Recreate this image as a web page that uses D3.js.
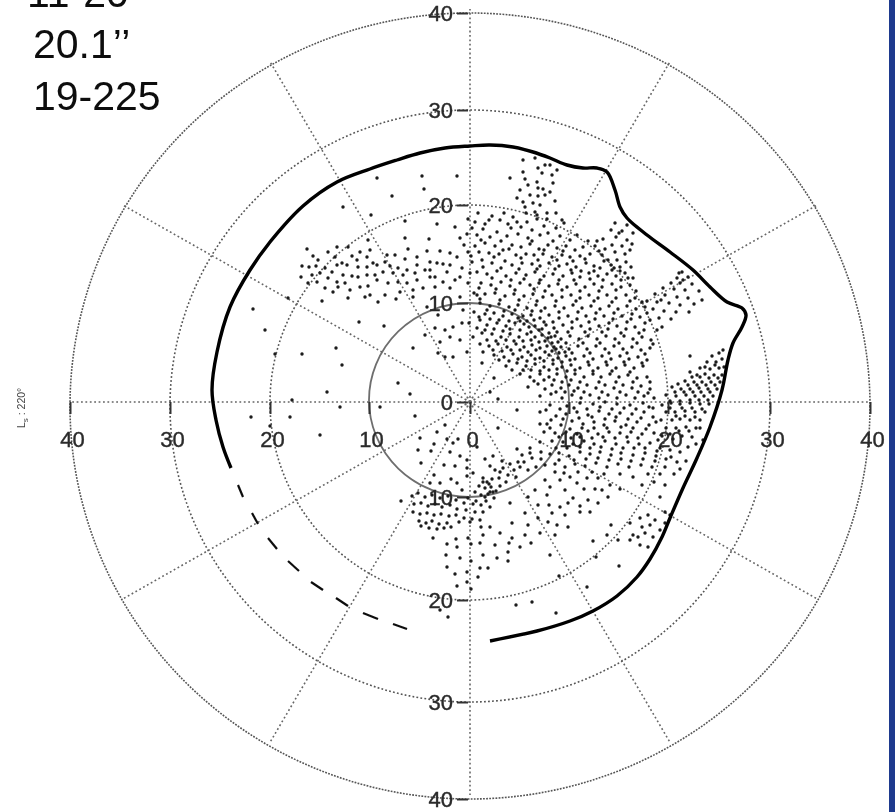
<!DOCTYPE html>
<html>
<head>
<meta charset="utf-8">
<script src="https://cdnjs.cloudflare.com/ajax/libs/d3/7.8.5/d3.min.js"></script>
<style>
  body { margin: 0; background: #fff; }
  #chart svg { display: block; }
  text { font-family: "Liberation Sans", Arial, sans-serif; }
</style>
</head>
<body>
<div id="chart"></div>
<script>
// grid values
var ringValues = [10, 20, 30, 40];
var spokeAngles = [0, 30, 60, 90, 120, 150, 180, 210, 240, 270, 300, 330];
var tickValues = [-40, -30, -20, -10, 0, 10, 20, 30, 40];
var titleLines = ["11-20", "20.1\u2019\u2019", "19-225"];

// outline of the cap edge (x, y in grid units)
var capEdge = [[2,-23.9],[6.7,-22.9],[10,-21.9],[12.3,-20.9],[14.7,-19.4],[16.7,-17.5],[18,-15.7],[19.2,-13.5],[20,-11.6],[21.3,-8.6],[22.7,-5.6],[24,-2.5],[25.2,1.2],[25.8,4.2],[26.3,5.9],[27.2,7.5],[27.6,8.7],[27.2,9.4],[25.7,10],[24,11.5],[22.3,13.2],[20,15],[17.7,16.7],[15.7,18.4],[15,19.5],[14.5,21.2],[13.7,23],[12.7,23.4],[11.3,23.4],[9.7,23.7],[8,24.4],[6.3,25],[4.3,25.5],[2,25.7],[0,25.6],[-2.5,25.4],[-5,24.9],[-7.3,24.2],[-10,23.3],[-13.3,22],[-16.7,19.6],[-20,16],[-22,13.2],[-24,9.5],[-25.3,5],[-25.8,1.2],[-25.4,-1.8],[-24.7,-4.5],[-23.9,-6.6]];

// dashed part of the edge, one pair per dash
var capDashes = [
  [[-23.2,-8.3],[-22.7,-9.5]],
  [[-21.8,-11.1],[-21.2,-12.2]],
  [[-20.2,-13.6],[-19.3,-14.7]],
  [[-18.2,-15.9],[-17.1,-16.9]],
  [[-15.9,-18],[-14.7,-18.8]],
  [[-13.4,-19.6],[-12.2,-20.4]],
  [[-10.7,-21.1],[-9.2,-21.7]],
  [[-7.7,-22.2],[-6.3,-22.7]]
];

var spikeDots = [[5.3,24.2],[6.5,24.4],[7.5,23.7],[8,23.7],[6.8,23.4],[8.7,23.2],[5.3,23],[4,22.4],[7.2,22.9],[8.2,22.7],[5.5,22.3],[6.7,22],[5.8,21.7],[8.3,21.9],[5,21.2],[6.8,21.4],[7.3,21.3],[8,21],[6,20.7],[6.8,20.6],[7.5,20.7],[4.7,20.4],[5.3,20],[8.5,20.1],[6.3,19.9],[7,19.7],[5.5,19.5],[7.7,18.9],[6.5,19],[6.7,18.7]];

var westDots = [[-9.3,22.4],[-4.8,22.6],[-1.3,22.6],[-4.6,21.3],[-7.8,20.6],[-12.7,19.5],[-9.9,18.7],[-6.5,18.1],[-3.3,17.8],[-10.2,16.2],[-6.5,16.4],[-4.1,16.3],[-1.5,17.5],[-1,16.4],
[-16.3,15.3],[-14.2,15],[-13.3,15.5],[-12.2,15.5],[-15.7,14.6],[-13.5,14.5],[-11.8,14.6],[-11,15],[-10,15.2],[-8.3,14.7],[-7.5,14.7],[-6.2,15.3],[-4.3,15.1],[-3,15.1],[-2,14.9],
[-15.2,14.2],[-12.8,13.9],[-11.3,14.2],[-10.3,14.5],[-9.7,13.9],[-8.5,14],[-6.5,14.3],[-5.3,14.5],[-4,14],[-2.7,13.8],[-1.3,14.5],[-0.2,15],
[-16.8,13.6],[-16.1,13.5],[-15.4,13.6],[-14.5,13.4],[-13.3,13.7],[-12.3,13.7],[-11.2,13.5],[-10.3,13.5],[-9.3,13.7],[-8,13.6],[-7.2,13.4],[-6.3,13.2],[-5.3,13.7],[-4,13.2],[-3.3,13.9],[-2,13.7],[-0.8,13.4],
[-16.9,12.5],[-15.8,12.7],[-15,12.9],[-13.8,13],[-12.7,12.7],[-11.8,12.6],[-11.2,12.5],[-10.3,12.7],[-9.5,12.7],[-8.7,13],[-7.7,12.9],[-6.7,12.7],[-5.5,12.9],[-4.5,13.2],[-3.5,12.5],[-2.3,13],[-1,12.5],[0,12.9],
[-16.2,11.9],[-15.3,12],[-14.2,12.4],[-13.3,12],[-12.5,11.9],[-11,11.5],[-10.2,11.6],[-9.3,12.2],[-8.2,11.9],[-7.2,12],[-6.3,11.9],[-5.3,12.2],[-4,12.5],[-2.7,12],[-1.5,12.2],
[-14.5,11.4],[-13.7,11],[-13.2,11.5],[-12,11.2],[-10,10.7],[-8.5,10.7],[-10.5,10.5],[-7,11],[-5.7,11.2],[-4.7,11.4],[-3.5,11.5],[-2,11.4],
[-14.8,10.1],[-12.2,10.4],[-9.2,10],[-7.4,10.3],[-5.7,10.5],[-1,10.5],[0.7,10.7],
[-11.1,8],[-8.6,7.6],[-13.4,5.4],[-16.8,4.8],[-12.8,3.7],[-14.3,1],[-7.2,1.9],[-5.7,5.4],[-18.2,10.4],
[-19.5,4.8],[-21.7,9.3],[-20.5,7.2],[-18,-1.5],[-20,-2.4],[-15,-3.3],[-17.8,0.2],[-21.9,-1.5],[-13,-0.5],[-9,-0.5],[-6,0.8],
[-4.3,9.5],[-3.2,8.7],[-4.5,6.7],[-3.5,7.4],[-3,6],[-2.5,7.2],[-1.7,7.5],[-0.8,7.9],[-2,6.5],[-1,6.2],[-3.2,4.9],[-2.5,4.5],[-1.7,4.5],[-0.3,5]];

var centralDots = [[0.8,18.9],[2.2,18.6],[3.4,18.9],[-0.2,18.3],[0.5,18],[1.5,17.8],[3,18.2],[3.8,17.8],[4.7,18],[5.7,18],[6.7,18.3],[7.7,18.3],[8.6,18.9],[5.6,18.9],[9.2,18.2],
[-0.3,16.8],[0.7,16.7],[2,16.5],[2.7,17],[3.7,16.6],[4.8,16.8],[5.8,16.4],[7,16.7],[7.8,16.9],[9,16.6],[10,16.2],[0.2,17.4],[1.3,17.3],[4.1,17.4],[5.1,17.5],[6.2,17.2],[7.4,17.6],[8.6,17.4],
[-0.6,15.7],[0.5,15.6],[1.5,15.9],[2.5,15.6],[3.3,15.2],[4.2,15.7],[5.1,15.5],[6,15.8],[6.9,15.3],[7.8,15.7],[8.7,15.4],[9.6,15.6],[10.5,15.2],[11.3,15.5],[0.9,15],[1.9,14.9],[2.9,14.8],[4.6,14.7],[5.6,14.8],[6.4,14.7],[7.3,14.8],[8.2,14.5],[9.2,14.7],[10,14.5],[11,14.6],[12,14.8],[12.9,15.1],
[0.2,14],[1.2,14.2],[2.2,13.9],[3.5,14.1],[4.2,13.7],[5.2,13.9],[6.2,13.8],[7,13.6],[7.9,13.9],[8.9,13.6],[9.7,13.8],[10.6,13.5],[11.6,13.9],[12.4,13.6],[13.4,14.1],[14.1,13.7],
[0.7,13],[1.7,12.8],[2.7,13.1],[3.6,12.6],[4.6,12.9],[5.6,12.7],[6.5,13],[7.4,12.6],[8.3,12.8],[9.3,12.6],[10.2,12.9],[11,12.5],[11.9,12.9],[12.8,12.6],[13.7,12.8],[14.6,12.6],[15.5,12.9],
[-0.2,11.9],[1.1,11.9],[2.1,11.7],[3.1,12],[4,11.6],[5,11.9],[6,11.7],[6.9,11.9],[7.9,11.6],[8.8,11.8],[9.7,11.5],[10.6,11.8],[11.5,11.5],[12.4,11.8],[13.2,11.5],[14.2,11.8],[15.1,11.5],[16,11.7],
[0.4,10.9],[1.5,10.8],[2.5,10.9],[3.5,10.6],[4.4,10.8],[5.4,10.6],[6.3,10.8],[7.3,10.5],[8.2,10.7],[9.2,10.5],[10.1,10.7],[11,10.4],[11.9,10.7],[12.8,10.4],[13.7,10.7],[14.6,10.4],[15.6,10.7],[16.5,10.4],
[1,9.9],[2,9.6],[2.9,9.8],[3.9,9.5],[4.8,9.7],[5.7,9.4],[6.6,9.7],[7.5,9.4],[8.5,9.6],[9.4,9.4],[10.3,9.7],[11.2,9.4],[12.1,9.6],[13,9.3],[13.9,9.6],[14.8,9.3],[15.7,9.6],[16.6,9.3],[17.5,9.5],
[-0.7,9.2],[0.4,9],[1.5,8.8],[2.4,8.9],[3.3,8.6],[4.2,8.8],[4.8,8.4],[5.3,8.6],[6.1,8.7],[7,8.4],[7.9,8.7],[8.9,8.4],[9.8,8.6],[10.7,8.3],[11.6,8.6],[12.5,8.3],[13.4,8.6],[14.3,8.3],[15.2,8.6],[16.1,8.3],[17,8.5],[18,8.2],
[-0.1,7.9],[1,8.2],[1.7,7.7],[2.7,7.9],[3.6,7.6],[4.5,7.9],[5.4,7.8],[5.9,7.5],[6.5,7.6],[6.9,7.2],[7.6,7.7],[8.4,7.4],[9.3,7.7],[10.2,7.4],[11.1,7.6],[12,7.3],[12.9,7.6],[13.8,7.3],[14.7,7.6],[15.6,7.3],[16.5,7.5],[17.4,7.2],[18.7,7.2],
[0.3,6.5],[1.2,6.9],[2.2,6.8],[3.1,6.5],[4,6.8],[4.9,6.5],[5.7,6.8],[6.5,6.5],[7.2,6.7],[7.8,6.4],[8.2,5.9],[8.5,6.6],[9.1,6.3],[10,6.6],[10.9,6.3],[11.8,6.6],[12.7,6.3],[13.6,6.6],[14.5,6.3],[15.4,6.6],[16.3,6.3],[17.2,6.5],[18.1,6.2],
[1,5.8],[1.9,5.6],[2.8,5.8],[3.7,5.5],[4.6,5.8],[5.4,5.5],[6.2,5.7],[7,5.4],[7.7,5.6],[8.6,5.3],[9.1,5.5],[9.9,5.3],[10.8,5.6],[11.7,5.3],[12.6,5.6],[13.5,5.3],[14.4,5.6],[15.3,5.3],[16.2,5.5],[17.1,5.2],[18,5.4],
[1.3,5],[2.4,4.7],[3.4,4.5],[4.3,4.8],[5.2,4.5],[6.1,4.7],[7,4.4],[7.9,4.7],[8.8,4.4],[9.6,4.6],[10.5,4.3],[11.4,4.6],[12.3,4.3],[13.2,4.6],[14.1,4.3],[15,4.6],[15.9,4.3],[16.8,4.5],[17.7,4.2],
[1.2,3.9],[3.6,3.6],[4.7,3.9],[5.6,3.6],[6.5,3.8],[7.4,3.5],[8.3,3.8],[9.2,3.5],[10.1,3.7],[11,3.4],[11.9,3.7],[12.8,3.4],[13.7,3.7],[14.6,3.4],[15.5,3.7],[16.4,3.4],[17.3,3.6],
[5,2.8],[6,2.5],[7,2.8],[7.9,2.5],[8.7,2.8],[9.6,2.5],[10.5,2.8],[11.4,2.5],[12.3,2.8],[13.1,2.5],[14,2.8],[14.9,2.5],[15.8,2.7],[16.7,2.4],[17.7,2.5],
[2.4,2.4],[5.8,1.5],[6.8,1.8],[7.5,1.3],[8.2,1.7],[9.1,1.4],[9.9,1.7],[10.8,1.4],[11.7,1.7],[12.6,1.4],[13.5,1.7],[14.4,1.4],[15.3,1.7],[16.2,1.4],[17.1,1.6],[18,1.3],
[2,1],[7,0.6],[8.1,0.8],[9.2,0.4],[10.2,0.7],[11.1,0.4],[12,0.7],[12.9,0.4],[13.8,0.7],[14.7,0.4],[15.6,0.7],[16.5,0.4],[17.4,0.6],[18.4,0.4]];

// extra dots between the rows above, thickest along the diagonal through the 10 ring
var denseDots = [[1.9,18.2],[4.3,18.5],[6.2,16.1],[8.3,16.1],[1.1,16.2],[3.1,16.1],[9.4,17.9],[10.7,16.7],[11.8,16.1],[12.5,15.6],[3.9,15.3],[7.4,15.2],[9.3,15.1],[0.1,14.6],[2.4,14.5],[5.1,14.4],[6.8,14.2],[8.7,14.2],[10.3,14.1],[11.5,14.3],[13,13.4],[15,13.1],
[1.3,13.5],[3.1,13.4],[4.9,13.3],[6.7,13.3],[8.5,13.3],[10.1,13.2],[11.1,13.1],[12.4,13.1],[14.2,13.2],[2.2,12.4],[4.1,12.2],[5.4,12.3],[7,12.2],[8.9,12.2],[10.4,12.2],[12,12.3],[13.3,12.2],[15.1,12.2],[16.3,12.4],
[0.9,11.4],[2.6,11.3],[4.5,11.2],[6.4,11.3],[7.5,11.1],[9.2,11.2],[11,11.1],[12.9,11.1],[14.6,11.2],[16.6,11.1],[1,10.3],[3,10.2],[4.9,10.2],[6.7,10.1],[8.6,10.1],[10.6,10.1],[12.4,10.1],[14.2,10],[16,10.1],[17.2,10],
[1.7,9.2],[3.4,9.1],[4.5,9.2],[6.2,9.1],[7.1,9.1],[8.9,9],[10.8,9],[12.6,8.9],[14.4,8.9],[16.2,8.8],[17.7,8.9],[0.9,8.5],[2,8.3],[2.9,8.2],[3.9,8.1],[5,8.1],[5.7,8.1],[6.4,8.2],[7.4,8],[8.3,8],[10.2,8],[11.9,8],[13.9,7.9],[15.7,8],[17.5,7.9],
[0.7,7.4],[1.5,7.2],[2.4,7.3],[3.3,7.1],[4,7.3],[5,7.2],[6.1,7],[7.2,7.3],[7.9,6.9],[8.7,7],[9.8,7],[11.5,7],[13.2,7],[15.1,6.9],[16.9,6.9],[1.7,6.2],[2.6,6.1],[3.6,6.2],[4.4,6.1],[5.3,6.1],[6.1,6.2],[6.9,6],[7.5,6.1],[8.1,6.5],[8.4,5.5],[8.8,6],[9.6,5.9],[11.3,5.9],[13,5.9],[14.9,5.9],[16.7,5.9],[18.3,5.8],
[2.3,5.2],[3.2,5.1],[4.1,5.2],[5,5.2],[5.8,5],[6.6,5.2],[7.5,5],[8.2,5.1],[8.9,4.9],[9.5,5],[10.2,4.9],[12,4.9],[13.9,4.9],[15.7,4.9],[17.5,4.8],[2.9,4.2],[3.9,4.1],[4.8,4.3],[5.7,4.1],[6.5,4.3],[7.4,4.1],[8.3,4.2],[9.2,4],[10,4.2],[11.8,4],[13.6,4],[15.4,4],[17.2,3.9],
[4.2,3.2],[5.3,3.2],[6.1,3.2],[7,3.1],[7.9,3.2],[8.7,3.3],[9.7,3.1],[10.5,3.2],[12.3,3.1],[14.2,3.1],[16,3],[6.4,2.1],[7.4,2.2],[8.4,2.2],[9.2,2],[10.1,2.2],[11,2],[12.9,2],[14.6,2],[16.3,2],[18,2],[8.6,1],[9.5,1],[10.4,1.1],[11.4,1],[13.2,1],[15,1],[16.8,1],[17.8,0.9]];

var lobeDots = [[14.5,17.9],[15.7,17.7],[14.1,17.2],[15.2,17.1],[16.3,16.9],[14.6,16.5],[15.7,16.2],[13.3,16.3],[14.2,15.7],[15.2,15.6],[16.2,15.8],[12.7,16.1],[13.5,15.3],[14.5,15],[15.5,14.8],[16,15.2],[13.2,14.7],[14.7,14.2],[15.6,14],[15,13.5],[16.1,13.5],[14.9,16.9],[13.8,14.2],[14.4,13.4],[15.8,12.4]];

var eastArmDots = [[21.2,13],[20.7,12.4],[21.8,12.5],[20.1,11.9],[21,11.9],[22.2,11.8],[19.3,11.4],[20.4,11.3],[21.5,11.2],[22.9,11.1],[18.5,10.8],[19.5,10.7],[20.7,10.5],[21.8,10.4],[23.2,10.2],[17.7,10.1],[18.7,10],[19.9,9.9],[21,9.7],[22.4,9.8],[18.3,9.3],[19.4,9.1],[20.6,9],[21.9,9],[18.9,8.4],[20.1,8.3],[19.2,7.5],[20.9,12.9],[21.3,12.2],[19.1,10.2]];

var eastDots = [[25.3,5.2],[24.9,4.9],[24.2,4.6],[25.2,4.3],[24.6,4],[23.7,4],[25.4,3.5],[24.9,3.4],[24,3.3],[23,3.4],[25.2,2.7],[24.4,2.7],[23.5,2.8],[22.7,2.7],[22,3],[25,2],[24.1,2],[23.2,2],[22.4,2],[21.5,2.1],[24.7,1.3],[23.8,1.3],[22.9,1.4],[22,1.3],[21.1,1.3],[20.2,1.5],[24.3,0.6],[23.4,0.6],[22.5,0.6],[21.6,0.7],[20.6,0.6],[19.6,0.7],[22,4.6],
[24.5,3.7],[23.5,3.5],[24.8,2.4],[23.9,2.4],[23,2.5],[22.2,2.5],[24.5,1.7],[23.6,1.7],[22.7,1.7],[21.8,1.7],[20.8,1.8],[24,1],[23.1,1],[22.3,1],[21.4,1],[20.5,1],[23.8,0.2],[22.9,0.2],[22,0.2],[21,0.1],[20,0.1],
[23.9,-0.2],[23,-0.2],[22,-0.1],[21,-0.2],[20.1,-0.1],[19.2,-0.3],[23.5,-1],[22.5,-1],[21.5,-0.9],[20.5,-1],[19.6,-1],[23,-1.8],[22,-1.8],[21,-1.7],[20.2,-1.8],[19.1,-1.8],[22.6,-2.6],[21.6,-2.5],[20.6,-2.6],[19.6,-2.6],[23.3,-3.8],[22.2,-3.5],[21.2,-3.4],[19.2,-3.4],
[23.2,-0.7],[22.2,-0.6],[21.2,-0.6],[20,-0.6],[22.5,-1.5],[21.5,-1.4],[20.6,-1.4],[23,-2.6],[21.9,-2.9],[20.9,-2.9],[20,-3.2]];

var southEastDots = [[8,-0.3],[9.7,-0.4],[11,-0.1],[12.3,-0.2],[13.5,0],[14.7,-0.2],[16,-0.3],[17.3,-0.1],[18.3,-0.6],
[7,-1],[8.6,-1.4],[9.6,-1.2],[10.7,-1],[11.8,-1.3],[12.9,-0.9],[13.9,-1.2],[15,-1.1],[16.2,-1.2],[17.4,-1],[18.3,-1.5],
[4.7,-0.8],[2.8,0.3],[7,-2.2],[7.7,-2.2],[9.1,-2.3],[10.2,-1.9],[11.3,-2.2],[12.4,-2],[13.4,-2.3],[14.5,-1.9],[15.6,-2.3],[16.7,-2],[17.9,-2.3],
[2.8,-2.6],[7.4,-3],[8.5,-3.1],[9.6,-3],[10.7,-3.2],[11.8,-2.9],[12.8,-3.2],[13.9,-3],[15,-3.1],[16.1,-3],[17.2,-3.2],[18.4,-3.1],[20.3,-3.7],[21.8,-4.5],[22.6,-4.2],
[6,-4.6],[7,-4],[8.2,-3.9],[9.3,-4],[10.3,-4.2],[11.4,-3.9],[12.4,-4.2],[13.5,-3.9],[14.6,-4.2],[15.8,-4],[16.9,-4.2],[18,-4.1],[19,-4.6],[20,-4.8],[21,-5],
[4.7,-4.7],[5.2,-5.3],[6.2,-5.6],[7.1,-5],[8,-5.2],[8.9,-5.1],[9.9,-5.4],[11,-5],[12,-5.2],[13,-5],[14.1,-5.3],[15.1,-5.1],[16.3,-5.3],[17.5,-5.1],[18.6,-5.4],[19.6,-5.7],[20.7,-6],[21.6,-5.9],
[3.2,-5.9],[4,-6.2],[5,-6.5],[5.8,-6.8],[6.6,-6.5],[7.5,-6.3],[8.5,-6.2],[9.5,-6.5],[10.5,-6.2],[11.5,-6.4],[12.6,-6.1],[13.7,-6.5],[14.8,-6.2],[15.9,-6.5],[17.1,-6.3],[18.2,-6.5],[19,-7.2],[20.4,-7.2],
[3,-7],[3.8,-7.3],[4.6,-7.5],[7.5,-7.8],[9,-7.8],[10,-7.5],[8.5,-7],[11.7,-7.6],[12.8,-7.6],[14,-8.3],[15,-8.7],[17.2,-8.3],[16.3,-7.5],[18.4,-8],[19.5,-8.3],
[6.5,-8.8],[7.7,-9.3],[9.5,-8.8],[10.7,-8.1],[10.3,-9.6],[11.8,-9.8],[12.8,-10.1],[13.8,-9.5],[5.8,-9.5],[9,-10.5],[9.8,-10.1],[19,-9.5],
[4,-10.1],[5.5,-11.1],[6.8,-11.6],[8.2,-11.1],[9.5,-11.3],[11,-11],[9.8,-12.5],[8.7,-12.3],[7.8,-12],[5.8,-12.3],[4.2,-12.1],[8.5,-13.3],[7,-13.1],[5.5,-13.3],[4.2,-13.6],[5,-14.5],[6.1,-14.1],
[11.7,-18.5],[14.9,-16.4],[8.9,-17.4],[8,-15.3],[12.3,-13.9],[12.6,-15.5],[13.7,-13.3],[14.1,-12.3],[14.8,-13.8],
[16,-12.1],[17,-11.6],[17.8,-11.3],[18.5,-11.8],[19.5,-11],[20,-11.3],[16.3,-13.3],[17.2,-12.5],[18,-12.3],[19,-12.8],[19.5,-12.1],[16,-13.8],[16.8,-13.5],[17.5,-13.1],[18.3,-13.5],[17,-14.3],[17.8,-14.5],
[7.6,-0.8],[9,-0.7],[10.4,-0.6],[11.7,-0.7],[13,-0.5],[14.2,-0.7],[15.4,-0.6],[16.6,-0.7],[17.9,-0.5],[8.1,-1.8],[9.3,-1.7],[10.9,-1.6],[12.2,-1.5],[13.5,-1.7],[14.6,-1.5],[15.8,-1.7],[17.1,-1.6],[18.6,-2],[8,-2.6],[10,-2.7],[11.2,-2.6],[12.4,-2.6],[13.7,-2.6],[15.1,-2.5],[16.3,-2.6],[17.6,-2.7],
[8.9,-3.5],[10.1,-3.6],[11,-3.5],[12.2,-3.6],[13.3,-3.5],[14.5,-3.6],[15.7,-3.5],[16.8,-3.6],[18.8,-3.8],[8.6,-4.6],[9.7,-4.6],[11,-4.5],[12,-4.6],[13.1,-4.5],[14.2,-4.7],[15.3,-4.6],[16.4,-4.6],[17.5,-4.6],[18.7,-4.9],[20.1,-5.5],
[7.1,-5.7],[8.9,-5.8],[10.4,-5.8],[11.6,-5.7],[12.8,-5.6],[13.9,-5.8],[15.1,-5.7],[16.1,-5.9],[17.3,-5.7],[18.5,-5.9],[19.5,-6.5],[21,-6.7],[9.4,-7.1],[10.8,-7],[12.2,-7],[13.4,-7.2],[15,-7.2],[17.8,-7.2],[8,-8.5],[11.4,-8.7],[12.5,-8.7],[13.2,-8.8],[6.8,-10.3],[7.9,-10.3],[11,-10.4],[12,-11]];

var southDots = [[-5.5,-1.4],[-5,-3.6],[-3.3,-3],[-2.5,-2.3],[-2.3,-3.7],[-1.2,-3.7],[-1.7,-4.1],[-3.6,-4.2],[-5.2,-4.8],[-3.9,-4.9],[-2,-5],[-1,-5.4],[0.7,-4.5],[-4.9,-6.1],[-2.6,-6.3],[-1.5,-6.4],[-3.6,-7.3],[-1.9,-7.7],[-0.3,-5.8],[-0.3,-6.6],[1.5,-5.7],[2.3,-5.4],[-4,-8.1],[-3,-8.1],[-1.3,-8.1],[-0.3,-7.4],[0.3,-7.1],
[1.3,-7.6],[1.7,-8],[2.2,-7.7],[0.9,-8.4],[1.5,-8.6],[2.1,-8.5],[2.6,-8.9],[0.5,-9],[1.1,-9.3],[1.8,-9.2],[2.4,-9.6],[0.6,-9.9],[1.6,-9.9],[-0.8,-8.8],[-0.2,-9.6],
[2.9,-7.6],[3.3,-6.6],[2.5,-6.8],[3.6,-8],[3,-8.4],[2,-9],[1.3,-8],[1.9,-8.2],[2.3,-9],[1.5,-9.5],[2,-6.4],[4.4,-6.8],[4.8,-6],[5.4,-6],[6,-5.1],
[-5.8,-9.4],[-5.2,-9.1],[-4.5,-9.5],[-3.8,-9.3],[-3,-9.6],[-2.2,-9.4],[-1.4,-9.8],[-0.6,-10.1],[0.3,-10.2],[1.1,-10.3],[2,-10.5],[-5.6,-10.2],[-4.9,-10.1],[-4.2,-10.4],[-3.5,-10.2],[-2.8,-10.5],[-2,-10.3],[-1.3,-10.7],[-0.4,-10.8],[0.5,-11],[1.3,-11],
[-5.7,-11],[-5,-11.2],[-4.3,-11.1],[-3.6,-11.3],[-2.9,-11.2],[-2.1,-11.4],[-1.4,-11.3],[-0.6,-11.6],[0.2,-11.7],[1,-11.8],[-5.1,-11.9],[-4.4,-12.1],[-3.8,-11.9],[-3.1,-12.2],[-2.3,-12.1],[-1.1,-12],[-4.9,-12.4],[-4.1,-12.6],[-3.3,-12.7],[-2.6,-12.6],[-1.9,-12.5],
[-3.7,-13.6],[-2.3,-14.2],[-1.3,-14.5],[-1.4,-13.7],[-0.2,-13.6],[0.1,-14.2],[1,-14.1],[2.5,-14.3],[1.3,-13.3],[2,-12.5],[1.1,-12.5],[0,-12],[3,-13.1],[3.9,-14.1],[3.8,-15],[-2.4,-15.3],[-1,-15.6],[1.3,-15.3],[2.7,-15.6],[0.1,-15.9],[3.8,-15.9],[-2.3,-16.5],[1,-16.6],[1.8,-16.6],[-1.5,-17.2],[-0.3,-17],[0.8,-17.5],[-0.3,-18],[-1.3,-18.4],[0.1,-18.7],
[4.6,-20.3],[6.2,-20],[8.6,-21.1],[-2.2,-21.5],[-3,-20.8],[-6.9,-9.9]];

var allDots = [spikeDots, westDots, centralDots, denseDots, lobeDots, eastArmDots, eastDots, southEastDots, southDots];

var width = 895, height = 812;

var svg = d3.select("#chart").append("svg")
    .attr("width", width)
    .attr("height", height);

// soft scan look
svg.append("filter").attr("id", "soft")
    .append("feGaussianBlur").attr("stdDeviation", 0.5);

// band on the right of the slide
svg.append("rect")
    .attr("x", 889).attr("y", 0)
    .attr("width", 6).attr("height", height)
    .attr("fill", "#1e3a8e");

var plot = svg.append("g").attr("filter", "url(#soft)");

// the printed rings are not perfectly concentric so the grid scale follows each ring
var gridX = d3.scaleLinear().domain(tickValues).range([70, 170, 270, 369, 470, 569, 668, 770, 870]);
var gridY = d3.scaleLinear().domain(tickValues).range([799, 702, 600, 497, 402, 303, 205, 110, 13]);

// marks
var x = d3.scaleLinear().domain([-40, 40]).range([70, 870]);
var y = d3.scaleLinear().domain([-40, 40]).range([802, 2]);

function ringShape(r) {
    return {
        cx: (gridX(r) + gridX(-r)) / 2,
        cy: (gridY(r) + gridY(-r)) / 2,
        rx: (gridX(r) - gridX(-r)) / 2,
        ry: (gridY(-r) - gridY(r)) / 2
    };
}

// rings
plot.selectAll(".ring")
    .data(ringValues)
    .enter()
    .append("ellipse")
    .attr("class", "ring")
    .attr("cx", function(d) { return ringShape(d).cx; })
    .attr("cy", function(d) { return ringShape(d).cy; })
    .attr("rx", function(d) { return ringShape(d).rx; })
    .attr("ry", function(d) { return ringShape(d).ry; })
    .attr("fill", "none")
    .attr("stroke", function(d) { return d == 10 ? "#6e6e6e" : "#555"; })
    .attr("stroke-width", function(d) { return d == 10 ? 1.8 : 1.6; })
    .attr("stroke-dasharray", function(d) { return d == 10 ? null : (d == 40 ? "1.8 1.3" : "1.8 2.2"); });

// centre mark
plot.append("circle")
    .attr("cx", gridX(0)).attr("cy", gridY(0)).attr("r", 4.5)
    .attr("fill", "none").attr("stroke", "#aaa").attr("stroke-width", 1.2);

// spokes
plot.selectAll(".spoke")
    .data(spokeAngles)
    .enter()
    .append("line")
    .attr("class", "spoke")
    .attr("x1", gridX(0))
    .attr("y1", gridY(0))
    .attr("x2", function(d) { var s = ringShape(40); return s.cx + s.rx * Math.sin(d * Math.PI / 180); })
    .attr("y2", function(d) { var s = ringShape(40); return gridY(0) - s.ry * Math.cos(d * Math.PI / 180); })
    .attr("stroke", "#666")
    .attr("stroke-width", 1.6)
    .attr("stroke-dasharray", "1.8 2.6");

// axes
var axisY = plot.append("g")
    .attr("transform", "translate(468,0)")
    .call(d3.axisLeft(gridY).tickValues(tickValues)
        .tickSize(11).tickPadding(4).tickFormat(function(d) { return Math.abs(d); }));

var axisX = plot.append("g")
    .attr("transform", "translate(0,402)")
    .call(d3.axisBottom(gridX).tickValues(tickValues)
        .tickSize(12).tickPadding(17).tickFormat(function(d) { return Math.abs(d); }));

plot.selectAll(".domain").remove();
plot.selectAll(".tick line").attr("stroke", "#333").attr("stroke-width", 2);
plot.selectAll(".tick text")
    .attr("font-size", 22)
    .attr("font-family", "'Liberation Sans', Arial, sans-serif")
    .attr("fill", "#2a2a2a")
    .attr("stroke", "#2a2a2a")
    .attr("stroke-width", 0.4);
axisX.selectAll(".tick text").attr("dx", 2);

// dots
allDots.forEach(function(list) {
    plot.append("g")
        .selectAll("circle")
        .data(list)
        .enter()
        .append("circle")
        .attr("cx", function(d) { return x(d[0]); })
        .attr("cy", function(d) { return y(d[1]); })
        .attr("r", 1.7)
        .attr("fill", "#1a1a1a");
});

// cap edge
var edge = d3.line()
    .x(function(d) { return x(d[0]); })
    .y(function(d) { return y(d[1]); })
    .curve(d3.curveCatmullRom.alpha(0.5));

plot.append("path")
    .attr("d", edge(capEdge))
    .attr("fill", "none")
    .attr("stroke", "#000")
    .attr("stroke-width", 3.4);

plot.selectAll(".dash")
    .data(capDashes)
    .enter()
    .append("path")
    .attr("class", "dash")
    .attr("d", edge)
    .attr("fill", "none")
    .attr("stroke", "#111")
    .attr("stroke-width", 2.2);

// title block top left
var titleX = [27, 33, 33];
var titleY = [7, 58, 110];
plot.selectAll(".title")
    .data(titleLines)
    .enter()
    .append("text")
    .attr("class", "title")
    .attr("x", function(d, i) { return titleX[i]; })
    .attr("y", function(d, i) { return titleY[i]; })
    .attr("font-size", 41)
    .attr("fill", "#111")
    .text(function(d) { return d; });

// small rotated label
var ls = plot.append("text")
    .attr("transform", "translate(25,428) rotate(-90)")
    .attr("font-size", 10.5)
    .attr("fill", "#444");
ls.append("tspan").text("L");
ls.append("tspan").attr("dy", 3).attr("font-size", 8).text("s");
ls.append("tspan").attr("dy", -3).text(" : 220\u00b0");
</script>
</body>
</html>
